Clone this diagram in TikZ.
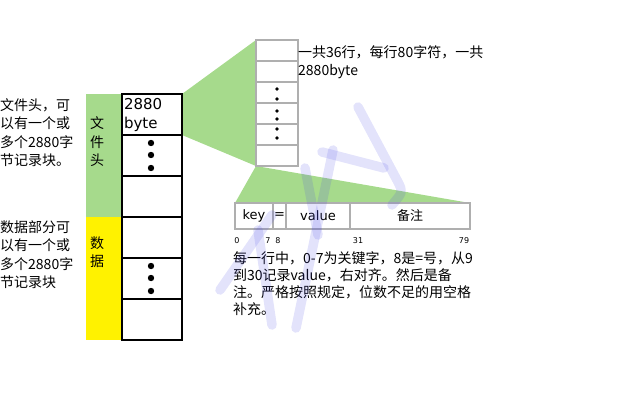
\documentclass[tikz,border=0pt]{standalone}
\usepackage{fontspec}
\setmainfont{Noto Sans CJK SC}
\newfontfamily\latinfont{DejaVu Sans}
\usepackage{tikz}
\usetikzlibrary{positioning, backgrounds}
\definecolor{headgreen}{RGB}{166, 218, 140}
\definecolor{datayellow}{RGB}{255, 242, 0}
\definecolor{gridgray}{RGB}{175, 175, 175}
\definecolor{wmblue}{RGB}{80, 80, 230}

\begin{document}
\begin{tikzpicture}[
    x=1pt, y=-1pt,
    node distance=0pt,
    font=\fontsize{14}{18.5}\selectfont,
    bar/.style={rectangle, minimum width=36pt, inner sep=0pt, outer sep=0pt},
    cell/.style={rectangle, draw=black, line width=1.2pt, fill=white, minimum width=60pt, minimum height=41pt, inner sep=0pt, outer sep=0pt},
    zcell/.style={rectangle, draw=gridgray, line width=1.2pt, fill=white, minimum width=42pt, minimum height=21pt, inner sep=0pt, outer sep=0pt},
    field/.style={rectangle, draw=gridgray, line width=1.2pt, minimum height=26pt, inner sep=0pt, outer sep=0pt, font=\latinfont\fontsize{13}{15}\selectfont},
    remark/.style={align=left, inner sep=0pt, anchor=north west},
    idx/.style={inner sep=0pt, font=\latinfont\fontsize{8}{9}\selectfont},
    ink/.style={draw=wmblue, opacity=0.16, line width=9.5pt, line cap=round, line join=round}
]
    \useasboundingbox (0,0) rectangle (640,400);

    % Side notes
    \node [remark] (headtext) at (0,98) {文件头，可\\以有一个或\\多个2880字\\节记录块。};
    \node [remark] (datatext) at (0,220) {数据部分可\\以有一个或\\多个2880字\\节记录块};

    % Bars
    \node [bar, fill=headgreen, minimum height=123pt, anchor=north west] (headbar) at (86,94) {};
    \node [bar, fill=datayellow, minimum height=123pt, below=of headbar] (databar) {};
    \node [align=center, inner sep=0pt] (headlabel) at (97,142) {文\\件\\头};
    \node [align=center, inner sep=0pt] (datalabel) at (97,252) {数\\据};

    % File blocks
    \node [cell, anchor=north west, text width=56pt, align=left, font=\latinfont\fontsize{15}{19}\selectfont] (c1) at (122,94) {2880\\byte};
    \node [cell, below=of c1] (c2) {};
    \node [cell, below=of c2] (c3) {};
    \node [cell, below=of c3] (c4) {};
    \node [cell, below=of c4] (c5) {};
    \node [cell, below=of c5] (c6) {};
    \foreach \y in {143,155,168,266,278,291}
        \fill (151,\y) circle (3.2pt);

    % Header block, zoomed
    \node [zcell, anchor=north west] (z1) at (256,40) {};
    \node [zcell, below=of z1] (z2) {};
    \node [zcell, below=of z2] (z3) {};
    \node [zcell, below=of z3] (z4) {};
    \node [zcell, below=of z4] (z5) {};
    \node [zcell, below=of z5] (z6) {};
    \foreach \y in {89,99,111,119,129,138}
        \fill (277,\y) circle (1.8pt);
    \node [remark] (linetext) at (298,45) {一共36行，每行80字符，一共\\2880byte};

    % One record line
    \node [field, minimum width=38pt, anchor=north west] (key) at (235,203) {key};
    \node [field, minimum width=13pt, right=of key] (eq) {=};
    \node [field, minimum width=64pt, right=of eq] (val) {value};
    \node [field, minimum width=120pt, right=of val, font=\fontsize{13}{15}\selectfont] (memo) {备注};
    \node [idx] (i0) at (237,241) {0};
    \node [idx] (i7) at (268,241) {7};
    \node [idx] (i8) at (278,241) {8};
    \node [idx] (i31) at (358,241) {31};
    \node [idx] (i79) at (464,241) {79};
    \node [remark, font=\fontsize{14}{17}\selectfont] (rule) at (233,251) {每一行中，0-7为关键字，8是=号，从9\\到30记录value，右对齐。然后是备\\注。严格按照规定，位数不足的用空格\\补充。};

    % Zoom wedges
    \begin{scope}[on background layer]
        \fill [headgreen] (c1.north east) -- (z1.north west) -- (z6.south west) -- (c1.south east) -- cycle;
        \fill [headgreen] (z6.south west) -- (key.north west) -- (memo.north east) -- cycle;
    \end{scope}

    % Watermark
    \draw [ink] (358,107) -- (398,182) .. controls (403,192) .. (392,205);
    \draw [ink] (322,152) -- (384,168);
    \draw [ink] (333,150) -- (296,328);
    \draw [ink] (305,168) -- (318,235);
    \draw [ink] (272,215) -- (220,290);
    \draw [ink] (258,230) -- (272,325);

\end{tikzpicture}
\end{document}
